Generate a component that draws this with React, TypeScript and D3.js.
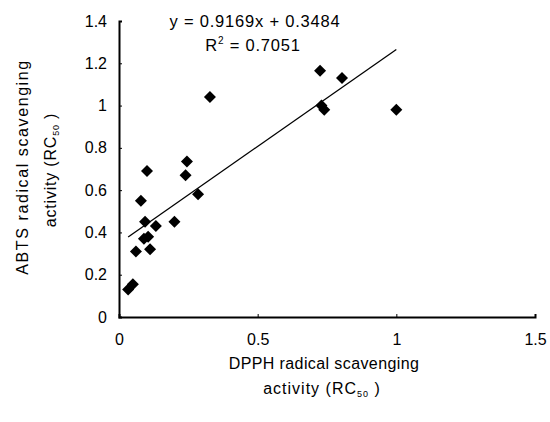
import React, {useRef, useEffect} from 'react';
import * as d3 from 'd3';

// DPPH (x) vs ABTS (y) scavenging activity
const dpph = [0.033, 0.05, 0.061, 0.112, 0.09, 0.105, 0.094, 0.133, 0.20, 0.079, 0.101, 0.285, 0.24, 0.245, 0.328, 0.725, 0.804, 0.73, 0.74, 1.0];
const abts = [0.13, 0.155, 0.31, 0.32, 0.37, 0.38, 0.45, 0.43, 0.45, 0.55, 0.69, 0.58, 0.67, 0.735, 1.04, 1.165, 1.13, 1.0, 0.98, 0.98];

const xTicks = [0, 0.5, 1, 1.5];
const yTicks = [0, 0.2, 0.4, 0.6, 0.8, 1, 1.2, 1.4];

const slope = 0.9169;
const intercept = 0.3484;
const eqLabel = 'y = 0.9169x + 0.3484';
const r2Value = '0.7051';

const config = {
    w: 550,
    h: 422,
    left: 119,
    right: 535,
    top: 21,
    bottom: 317,
    font: '"Liberation Sans", Arial, sans-serif'
};

const App = () => {
    const svgRef = useRef(null);

    useEffect(() => {
        const svg = d3.select(svgRef.current);
        svg.selectAll('*').remove();

        const x = d3.scaleLinear().domain([0, 1.5]).range([config.left, config.right]);
        const y = d3.scaleLinear().domain([0, 1.4]).range([config.bottom, config.top]);

        // axes (ticks point inward like excel)
        const xAxis = svg.append('g').attr('transform', `translate(0,${config.bottom})`)
            .call(d3.axisBottom(x).tickValues(xTicks).tickSize(-3).tickPadding(17).tickFormat(d3.format('')));
        const yAxis = svg.append('g').attr('transform', `translate(${config.left},0)`)
            .call(d3.axisLeft(y).tickValues(yTicks).tickSize(-3).tickPadding(12).tickFormat(d3.format('')));

        [xAxis, yAxis].forEach(ax => {
            ax.select('.domain').attr('stroke', '#000').attr('stroke-width', 2);
            ax.selectAll('.tick line').attr('stroke', '#000');
            ax.selectAll('.tick text')
                .attr('fill', '#000')
                .style('font-family', config.font)
                .style('font-size', '16px');
        });
        xAxis.selectAll('.tick text').attr('dy', '0.71em');

        // trendline over the data range
        const [xmin, xmax] = d3.extent(dpph);
        svg.append('line')
            .attr('x1', x(xmin)).attr('y1', y(slope * xmin + intercept))
            .attr('x2', x(xmax)).attr('y2', y(slope * xmax + intercept))
            .attr('stroke', '#000').attr('stroke-width', 1.3);

        // diamond markers
        const r = 6;
        svg.append('g').selectAll('path')
            .data(dpph.map((d, i) => ({x: d, y: abts[i]})))
            .join('path')
            .attr('d', d => {
                const cx = x(d.x), cy = y(d.y);
                return `M${cx},${cy - r}L${cx + r},${cy}L${cx},${cy + r}L${cx - r},${cy}Z`;
            })
            .attr('fill', '#000');

        // equation labels
        const eq = svg.append('g').style('font-family', config.font).style('font-size', '16.5px')
            .style('letter-spacing', '0.8px').attr('fill', '#000');
        eq.append('text').attr('x', 255).attr('y', 27).attr('text-anchor', 'middle').text(eqLabel);
        const r2 = eq.append('text').attr('x', 253).attr('y', 51).attr('text-anchor', 'middle');
        r2.append('tspan').text('R');
        r2.append('tspan').attr('font-size', '10px').attr('dy', -7).text('2');
        r2.append('tspan').attr('dy', 7).text(' = ' + r2Value);

        // axis titles
        const titles = svg.append('g').style('font-family', config.font).style('font-size', '16px').attr('fill', '#000');
        const addRC = (t) => {
            t.append('tspan').text('activity (RC');
            t.append('tspan').attr('font-size', '9px').attr('dy', 3).text('50');
            t.append('tspan').attr('dy', -3).text(' )');
            return t;
        };
        titles.append('text').attr('x', 324).attr('y', 369).attr('text-anchor', 'middle')
            .style('letter-spacing', '0.4px')
            .text('DPPH radical scavenging');
        addRC(titles.append('text').attr('x', 322).attr('y', 394).attr('text-anchor', 'middle'))
            .style('letter-spacing', '1px');

        titles.append('text').attr('transform', 'translate(28,167) rotate(-90)').attr('text-anchor', 'middle')
            .style('letter-spacing', '1.6px')
            .text('ABTS radical scavenging');
        addRC(titles.append('text').attr('transform', 'translate(56,170) rotate(-90)').attr('text-anchor', 'middle'))
            .style('letter-spacing', '0.8px');
    }, []);

    return (
        <svg ref={svgRef} width={config.w} height={config.h}
             style={{position: 'absolute', left: 0, top: 0, background: '#fff'}}></svg>
    );
};

export default App;
